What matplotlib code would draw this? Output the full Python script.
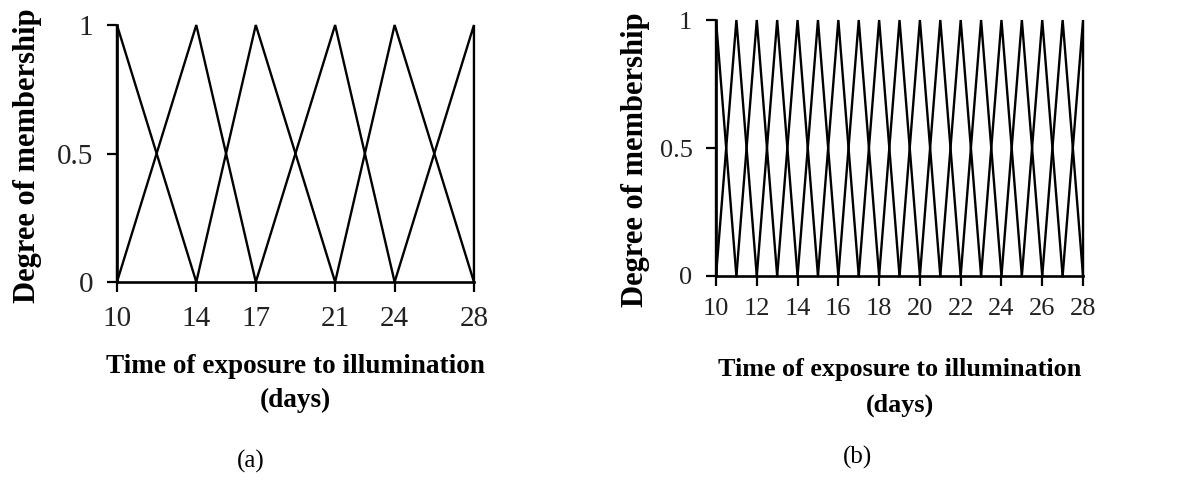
import matplotlib
matplotlib.use("Agg")
import matplotlib.pyplot as plt

plt.rcParams["font.family"] = ["Liberation Serif", "DejaVu Serif"]

# peak positions (days) of the triangular membership functions
peaks_a = [10, 14, 17, 21, 24, 28]
peaks_b = [10, 11, 12, 13, 14, 15, 16, 17, 18, 19, 20,
           21, 22, 23, 24, 25, 26, 27, 28]

xticks_a = [10, 14, 17, 21, 24, 28]
xticks_b = [10, 12, 14, 16, 18, 20, 22, 24, 26, 28]
yticks = [0, 0.5, 1]
ytick_labels = ["0", "0.5", "1"]

xlabel = "Time of exposure to illumination\n(days)"
ylabel = "Degree of membership"


def draw_mfs(ax, peaks):
    for i, p in enumerate(peaks):
        left = peaks[i - 1] if i > 0 else p
        right = peaks[i + 1] if i < len(peaks) - 1 else p
        ax.plot([left, p, right], [0, 1, 0], color="black", lw=1.7,
                clip_on=False, solid_joinstyle="miter")


def style_axes(ax, xticks, tick_fs, xlab_fs, xpad, ypad, xlabpad,
               ylabpad, spacing, ylab_y):
    ax.set_xlim(peaks_a[0], peaks_a[-1])
    ax.set_ylim(0, 1)
    for s in ["top", "right"]:
        ax.spines[s].set_visible(False)
    for s in ["left", "bottom"]:
        ax.spines[s].set_linewidth(1.9)
    ax.set_xticks(xticks)
    ax.set_yticks(yticks)
    ax.set_yticklabels(ytick_labels)
    ax.tick_params(axis="both", direction="out", length=7, width=1.6,
                   labelsize=tick_fs, labelcolor="#222222")
    ax.tick_params(axis="x", pad=xpad)
    ax.tick_params(axis="y", pad=ypad)
    ax.set_xlabel(xlabel, fontsize=xlab_fs, fontweight="bold",
                  labelpad=xlabpad, linespacing=spacing)
    ax.set_ylabel(ylabel, fontsize=22, fontweight="bold",
                  labelpad=ylabpad)
    ax.yaxis.label.set_y(ylab_y)


fig = plt.figure(figsize=(11.79, 4.8), dpi=100)

ax1 = fig.add_axes([0.0992, 0.4125, 0.3028, 0.5354])
draw_mfs(ax1, peaks_a)
style_axes(ax1, xticks_a, 21, 19.6, 10, 10, 16, 11, 1.45, 0.49)

ax2 = fig.add_axes([0.6073, 0.425, 0.3113, 0.5333])
draw_mfs(ax2, peaks_b)
style_axes(ax2, xticks_b, 19, 18.8, 9, 10, 27, 7, 1.7, 0.455)

fig.text(0.213, 0.038, "(a)", fontsize=18, ha="center", va="center")
fig.text(0.727, 0.048, "(b)", fontsize=18, ha="center", va="center")

fig.savefig("out.png", dpi=100)
